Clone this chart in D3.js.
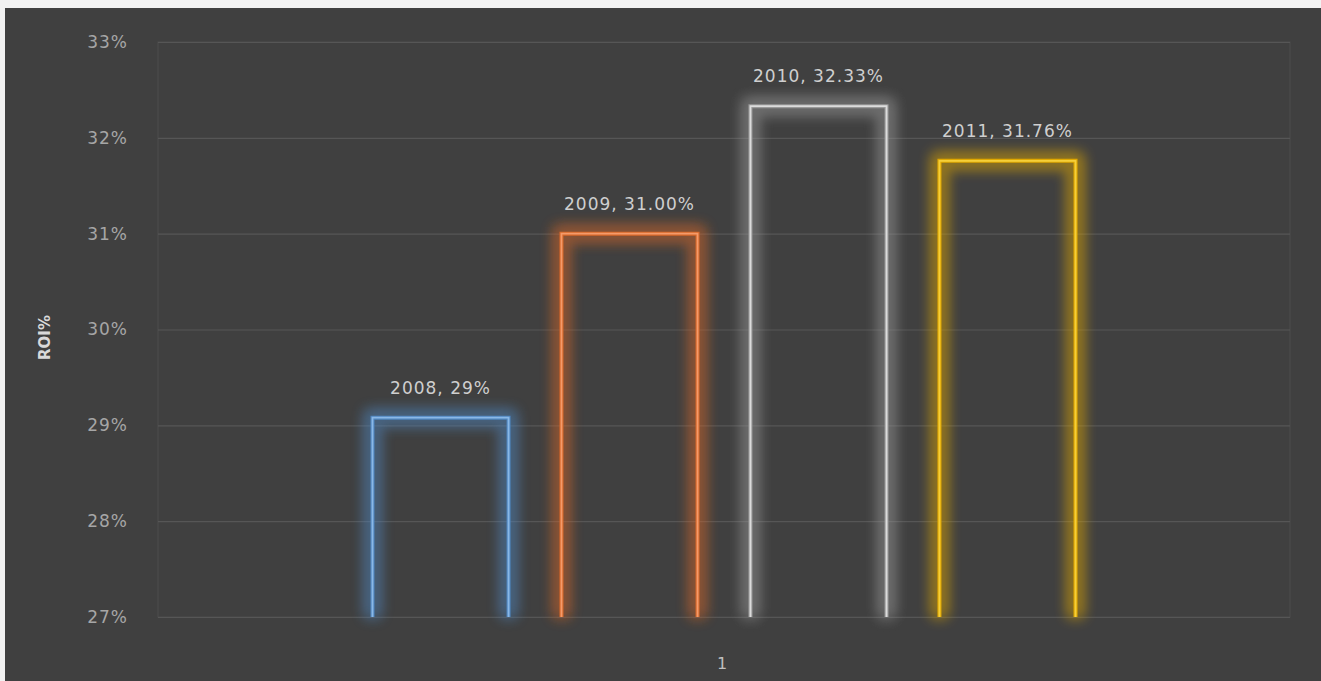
<!DOCTYPE html>
<html>
<head>
<meta charset="utf-8">
<script src="https://cdn.jsdelivr.net/npm/d3@7"></script>
<style>
  html, body { margin: 0; padding: 0; background: #ffffff; }
  svg { display: block; }
</style>
</head>
<body>
<script>
// ---- data ----
const categories = ["1"];
const years = ["2008", "2009", "2010", "2011"];
const roiValues = [29.08, 31.00, 32.33, 31.76];
const valueLabels = ["2008, 29%", "2009, 31.00%", "2010, 32.33%", "2011, 31.76%"];
const yTicks = [27, 28, 29, 30, 31, 32, 33];
const yTickLabels = ["27%", "28%", "29%", "30%", "31%", "32%", "33%"];
const seriesColors = ["#4f86c0", "#d8682a", "#9a9a9a", "#e0a800"];
const seriesCore = ["#8ab8e6", "#f49a6a", "#dcdcdc", "#f5cf3a"];

const W = 1321, H = 681;
const plot = { left: 158, right: 1290, top: 42, bottom: 617 };

const svg = d3.select("body").append("svg").attr("width", W).attr("height", H);

// background
svg.append("rect").attr("x", 0).attr("y", 0).attr("width", W).attr("height", H).attr("fill", "#f2f2f2");
svg.append("rect").attr("x", 5).attr("y", 8).attr("width", W - 5).attr("height", H - 8).attr("fill", "#404040");

// filters for glow
const defs = svg.append("defs");
seriesColors.forEach((c, i) => {
  const f = defs.append("filter").attr("id", "glow" + i)
    .attr("x", "-30%").attr("y", "-30%").attr("width", "160%").attr("height", "160%");
  f.append("feGaussianBlur").attr("in", "SourceGraphic").attr("stdDeviation", 7).attr("result", "b");
  const m = f.append("feMerge");
  m.append("feMergeNode").attr("in", "b");
  m.append("feMergeNode").attr("in", "b");
});

const y = d3.scaleLinear().domain([27, 33]).range([plot.bottom, plot.top]);
const x0 = d3.scaleBand().domain(categories).range([plot.left, plot.right]).paddingInner(0).paddingOuter(0.245);
const x1 = d3.scaleBand().domain(years).range([0, x0.bandwidth()]).paddingInner(0.28).paddingOuter(0.15);

// plot frame
svg.append("rect").attr("x", plot.left).attr("y", plot.top)
  .attr("width", plot.right - plot.left).attr("height", plot.bottom - plot.top)
  .attr("fill", "none").attr("stroke", "#4c4c4c").attr("stroke-width", 1);

// gridlines
const yAxis = d3.axisLeft(y).tickValues(yTicks)
  .tickFormat((d, i) => yTickLabels[i])
  .tickSize(-(plot.right - plot.left)).tickPadding(30);
const ga = svg.append("g").attr("transform", `translate(${plot.left},0)`).call(yAxis);
ga.select(".domain").remove();
ga.selectAll(".tick line").attr("stroke", "#565656").attr("stroke-width", 1.2);
ga.selectAll(".tick text").attr("fill", "#a6a6a6")
  .attr("font-family", "'DejaVu Sans', sans-serif").attr("font-size", 17)
  .attr("letter-spacing", 1);

// y title
svg.append("text").attr("transform", `translate(50,${(plot.top + plot.bottom) / 2 + 8}) rotate(-90)`)
  .attr("text-anchor", "middle").attr("fill", "#d9d9d9")
  .attr("font-family", "'DejaVu Sans', sans-serif").attr("font-weight", "bold").attr("font-size", 15)
  .text("ROI%");

// x axis label
svg.append("text").attr("x", x0("1") + x0.bandwidth() / 2 - 2).attr("y", 669)
  .attr("text-anchor", "middle").attr("fill", "#bfbfbf")
  .attr("font-family", "'DejaVu Sans', sans-serif").attr("font-size", 16).text(categories[0]);

// bars
const gBars = svg.append("g");
years.forEach((yr, i) => {
  const bx = x0("1") + x1(yr);
  const bw = x1.bandwidth();
  const top = y(roiValues[i]);
  const bottom = y(27);
  const p = `M${bx},${bottom}L${bx},${top}L${bx + bw},${top}L${bx + bw},${bottom}`;
  // glow
  gBars.append("path").attr("d", p).attr("fill", "none")
    .attr("stroke", seriesColors[i]).attr("stroke-width", 14).attr("opacity", 0.5)
    .attr("filter", `url(#glow${i})`);
  gBars.append("line").attr("x1", bx + 6).attr("x2", bx + bw - 6).attr("y1", bottom - 6).attr("y2", bottom - 6)
    .attr("stroke", seriesColors[i]).attr("stroke-width", 10).attr("opacity", 0.3)
    .attr("filter", `url(#glow${i})`);
  // outline
  gBars.append("path").attr("d", p).attr("fill", "none")
    .attr("stroke", seriesColors[i]).attr("stroke-width", 4);
  gBars.append("path").attr("d", p).attr("fill", "none")
    .attr("stroke", seriesCore[i]).attr("stroke-width", 1.8);
  // label
  gBars.append("text").attr("x", bx + bw / 2).attr("y", top - 24)
    .attr("text-anchor", "middle").attr("fill", "#cfcfcf")
    .attr("font-family", "'DejaVu Sans', sans-serif").attr("font-size", 17)
    .attr("letter-spacing", 1)
    .text(valueLabels[i]);
});
</script>
</body>
</html>
